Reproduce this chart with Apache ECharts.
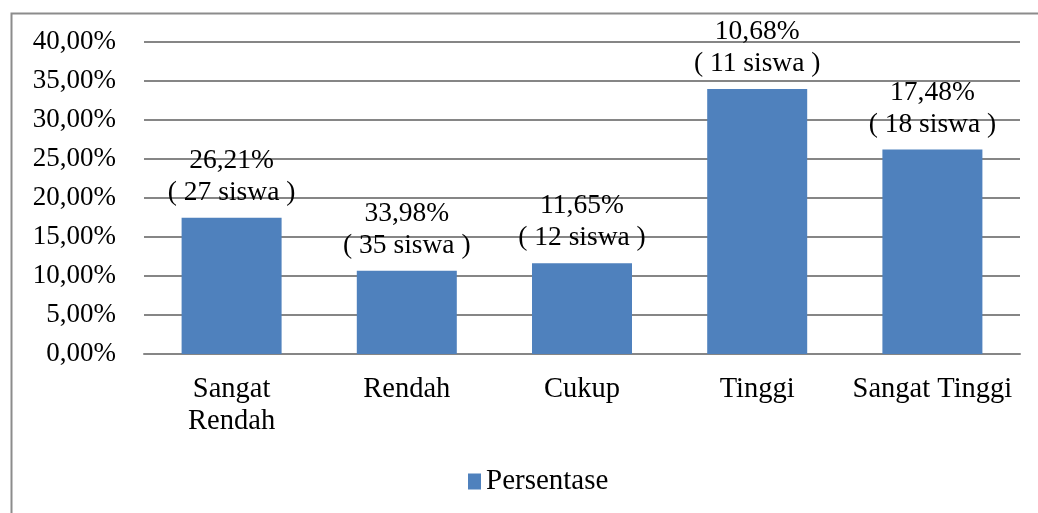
<!DOCTYPE html>
<html>
<head>
<meta charset="utf-8">
<script src="https://cdn.jsdelivr.net/npm/echarts@6/dist/echarts.min.js"></script>
<style>
html,body{margin:0;padding:0;background:#fff;}
#c{width:1038px;height:513px;}
</style>
</head>
<body>
<div id="c"></div>
<script>
const categories = ['Sangat\nRendah', 'Rendah', 'Cukup', 'Tinggi', 'Sangat Tinggi'];
const values = [17.48, 10.68, 11.65, 33.98, 26.21];
const labelPercent = ['26,21%', '33,98%', '11,65%', '10,68%', '17,48%'];
const labelCount = [27, 35, 12, 11, 18];
const seriesName = 'Persentase';

const font = '"Liberation Serif", "Times New Roman", serif';
const chart = echarts.init(document.getElementById('c'));
chart.setOption({
  animation: false,
  backgroundColor: '#fff',
  graphic: [{
    type: 'rect', left: 9, top: 11, z: -10,
    shape: { width: 1100, height: 600 },
    style: { fill: 'none', stroke: '#8c8c8c', lineWidth: 2 }
  }],
  grid: { left: 144, right: 18, top: 42, bottom: 159 },
  legend: {
    data: [seriesName], bottom: 12, left: 463,
    icon: 'rect', itemWidth: 13, itemHeight: 16, itemGap: 8,
    textStyle: { fontFamily: font, fontSize: 29, color: '#000' }
  },
  xAxis: {
    type: 'category', data: categories,
    axisTick: { show: false },
    axisLine: { lineStyle: { color: '#868686', width: 2 } },
    axisLabel: { fontFamily: font, fontSize: 28.5, color: '#000', lineHeight: 32, margin: 20, interval: 0 }
  },
  yAxis: {
    type: 'value', min: 0, max: 40, interval: 5,
    axisLine: { show: false }, axisTick: { show: false },
    splitLine: { lineStyle: { color: '#868686', width: 2 } },
    axisLabel: {
      fontFamily: font, fontSize: 27, color: '#000', margin: 28,
      formatter: v => v.toFixed(2).replace('.', ',') + '%'
    }
  },
  series: [{
    name: seriesName, type: 'bar', data: values, barWidth: 100,
    itemStyle: { color: '#4F81BD' },
    label: {
      show: true, position: 'top', distance: 9,
      fontFamily: font, fontSize: 27.5, color: '#000', lineHeight: 32,
      formatter: p => labelPercent[p.dataIndex] + '\n( ' + labelCount[p.dataIndex] + ' siswa )'
    }
  }]
});
</script>
</body>
</html>
